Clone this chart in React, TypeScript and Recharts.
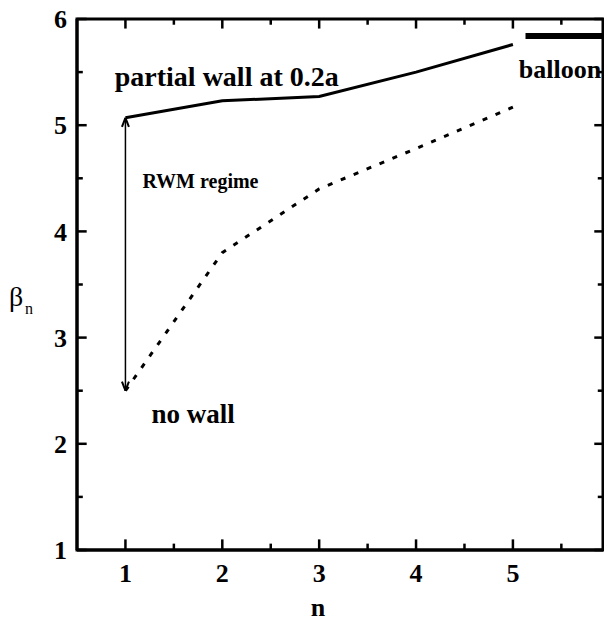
import { LineChart, Line, XAxis, YAxis, Label, ReferenceDot, ReferenceLine, ReferenceArea } from "recharts";

// toroidal mode number n and critical beta for each wall configuration
const nValues = [1, 2, 3, 4, 5];
const partialWall = [5.07, 5.23, 5.27, 5.5, 5.76];
const noWall = [2.5, 3.8, 4.4, 4.78, 5.17];

// ballooning limit (high-n), drawn as a short bar
const balloonN = [5.13, 5.93];
const balloonBeta = [5.84, 5.84];

const xTicks = [1, 1.5, 2, 2.5, 3, 3.5, 4, 4.5, 5, 5.5];
const yTicks = [1, 1.5, 2, 2.5, 3, 3.5, 4, 4.5, 5, 5.5, 6];
const xDomain = [0.5, 5.93];
const yDomain = [1, 6];

const [x0, x1] = xDomain;
const [y0, y1] = yDomain;

const wallData = nValues.map((n, i) => ({ n, beta: partialWall[i] }));
const noWallData = nValues.map((n, i) => ({ n, beta: noWall[i] }));
const balloonData = balloonN.map((n, i) => ({ n, beta: balloonBeta[i] }));

const FONT = '"Liberation Serif", "Times New Roman", serif';
const isMajor = (v: number) => Number.isInteger(v);
const axisStroke = { stroke: "#000", strokeWidth: 3 };
const tickFont = { fontFamily: FONT, fontWeight: 700, fontSize: 26, fill: "#000" };
const onlyMajor = (v: number) => (isMajor(v) ? String(v) : "");

// inward tick lengths, in data units
const tickLen = (v: number) => (isMajor(v) ? 0.1 : 0.06);

// arrowhead half-width / length in data units
const headW = 0.036;
const headL = 0.085;

const ids = { xAxisId: "b", yAxisId: "l" };

const noteLabel = (value: string, fontSize: number) => ({
  value,
  position: "right" as const,
  offset: 0,
  fill: "#000",
  fontFamily: FONT,
  fontWeight: 700,
  fontSize,
});

export default function App() {
  const arrowN = nValues[0];
  const arrowLow = noWall[0];
  const arrowHigh = partialWall[0];
  return (
    <div style={{ width: 604, height: 632 }}>
      <style>{"body{margin:0}"}</style>
      <LineChart width={604} height={632} margin={{ top: 19, right: 1, bottom: 0, left: 0 }}>
        <XAxis
          xAxisId="b"
          dataKey="n"
          type="number"
          domain={xDomain}
          ticks={xTicks}
          interval={0}
          allowDataOverflow
          height={82}
          tickLine={false}
          tickMargin={8}
          axisLine={axisStroke}
          tick={tickFont}
          tickFormatter={onlyMajor}
        >
          <Label value="n" position="insideBottom" offset={16} dx={-22} fill="#000" fontFamily={FONT} fontWeight={700} fontSize={26} />
        </XAxis>
        <YAxis
          yAxisId="l"
          type="number"
          domain={yDomain}
          ticks={yTicks}
          interval={0}
          allowDataOverflow
          width={77}
          tickLine={false}
          tickMargin={4}
          axisLine={axisStroke}
          tick={tickFont}
          tickFormatter={onlyMajor}
        >
          <Label value="β" position="insideLeft" offset={9} dy={12} fill="#000" fontFamily={FONT} fontSize={28} />
          <Label value="n" position="insideLeft" offset={25} dy={24} fill="#000" fontFamily={FONT} fontSize={16} />
        </YAxis>

        {/* box around the plot */}
        <ReferenceArea {...ids} x1={x0} x2={x1} y1={y0} y2={y1} fill="none" stroke="#000" strokeWidth={3} ifOverflow="visible" />

        {/* inward ticks on all four sides */}
        {xTicks.map((t) => (
          <ReferenceLine key={`xb${t}`} {...ids} stroke="#000" strokeWidth={2.5}
            segment={[{ x: t, y: y0 }, { x: t, y: y0 + tickLen(t) }]} />
        ))}
        {xTicks.map((t) => (
          <ReferenceLine key={`xt${t}`} {...ids} stroke="#000" strokeWidth={2.5}
            segment={[{ x: t, y: y1 }, { x: t, y: y1 - tickLen(t) * 0.9 }]} />
        ))}
        {yTicks.map((t) => (
          <ReferenceLine key={`yl${t}`} {...ids} stroke="#000" strokeWidth={2.5}
            segment={[{ x: x0, y: t }, { x: x0 + tickLen(t), y: t }]} />
        ))}
        {yTicks.map((t) => (
          <ReferenceLine key={`yr${t}`} {...ids} stroke="#000" strokeWidth={2.5}
            segment={[{ x: x1, y: t }, { x: x1 - tickLen(t) * 0.9, y: t }]} />
        ))}

        {/* RWM-regime arrow between the two limits at n = 1 */}
        <ReferenceLine {...ids} stroke="#000" strokeWidth={1.5}
          segment={[{ x: arrowN, y: arrowLow }, { x: arrowN, y: arrowHigh }]} />
        <ReferenceLine {...ids} stroke="#000" strokeWidth={2}
          segment={[{ x: arrowN - headW, y: arrowHigh - headL }, { x: arrowN, y: arrowHigh }]} />
        <ReferenceLine {...ids} stroke="#000" strokeWidth={2}
          segment={[{ x: arrowN + headW, y: arrowHigh - headL }, { x: arrowN, y: arrowHigh }]} />
        <ReferenceLine {...ids} stroke="#000" strokeWidth={2}
          segment={[{ x: arrowN - headW, y: arrowLow + headL }, { x: arrowN, y: arrowLow }]} />
        <ReferenceLine {...ids} stroke="#000" strokeWidth={2}
          segment={[{ x: arrowN + headW, y: arrowLow + headL }, { x: arrowN, y: arrowLow }]} />

        <Line {...ids} data={wallData} dataKey="beta" stroke="#000" strokeWidth={3} dot={false} isAnimationActive={false} />
        <Line {...ids} data={noWallData} dataKey="beta" stroke="#000" strokeWidth={3} strokeDasharray="5 9" dot={false} isAnimationActive={false} />
        <Line {...ids} data={balloonData} dataKey="beta" stroke="#000" strokeWidth={6} dot={false} isAnimationActive={false} />

        <ReferenceDot {...ids} x={0.89} y={5.46} r={0} label={noteLabel("partial wall at 0.2a", 28)} />
        <ReferenceDot {...ids} x={5.06} y={5.53} r={0} label={noteLabel("balloon", 26)} />
        <ReferenceDot {...ids} x={1.175} y={4.48} r={0} label={noteLabel("RWM regime", 20)} />
        <ReferenceDot {...ids} x={1.27} y={2.29} r={0} label={noteLabel("no wall", 27)} />
      </LineChart>
    </div>
  );
}
